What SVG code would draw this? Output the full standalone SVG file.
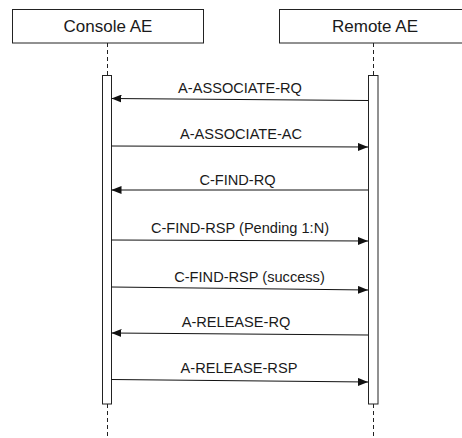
<svg xmlns="http://www.w3.org/2000/svg" width="462" height="438" viewBox="0 0 462 438">
<defs>
<style>
.box{fill:#fff;stroke:#222;stroke-width:1}
.hdr{font-family:"Liberation Sans",Arial,sans-serif;font-size:17px;fill:#1a1a1a;text-anchor:middle}
.lbl{font-family:"Liberation Sans",Arial,sans-serif;font-size:14.6px;fill:#1a1a1a;text-anchor:middle}
.life{stroke:#222;stroke-width:1;stroke-dasharray:4,3;fill:none}
.msg{stroke:#111;stroke-width:1;fill:none;marker-end:url(#ah)}
</style>
<marker id="ah" viewBox="0 0 10 8" refX="10" refY="4" markerWidth="10" markerHeight="8" markerUnits="userSpaceOnUse" orient="auto">
<path d="M0,0 L10,4 L0,8 Z" fill="#111"/>
</marker>
</defs>
<rect width="462" height="438" fill="#fff"/>
<g id="console">
<rect class="box" x="12.5" y="9.5" width="191" height="33.5"/>
<text class="hdr" x="108" y="32.3">Console AE</text>
<line class="life" x1="107.5" y1="43" x2="107.5" y2="75.5"/>
<line class="life" x1="107.5" y1="404" x2="107.5" y2="438"/>
<rect class="box" x="102.5" y="75.5" width="9" height="328.5"/>
</g>
<g id="remote">
<rect class="box" x="279.5" y="9.5" width="190" height="33.5"/>
<text class="hdr" x="375" y="32.3">Remote AE</text>
<line class="life" x1="373.5" y1="43" x2="373.5" y2="75.5"/>
<line class="life" x1="373.5" y1="404" x2="373.5" y2="438"/>
<rect class="box" x="368.5" y="75.5" width="9.5" height="328.5"/>
</g>
<g id="connectors">
<path class="msg" d="M368,100.5 L111.5,98.5"/>
<text class="lbl" x="240" y="93">A-ASSOCIATE-RQ</text>
<path class="msg" d="M111.5,146 L368,147"/>
<text class="lbl" x="241" y="139.3">A-ASSOCIATE-AC</text>
<path class="msg" d="M368,190 L111.5,190"/>
<text class="lbl" x="237.5" y="185">C-FIND-RQ</text>
<path class="msg" d="M111.5,240 L368,241"/>
<text class="lbl" x="240" y="233">C-FIND-RSP (Pending 1:N)</text>
<path class="msg" d="M111.5,287 L368,290"/>
<text class="lbl" x="249.5" y="281.5">C-FIND-RSP (success)</text>
<path class="msg" d="M368,335 L111.5,333"/>
<text class="lbl" x="236" y="327">A-RELEASE-RQ</text>
<path class="msg" d="M111.5,379.5 L368,382"/>
<text class="lbl" x="239" y="373">A-RELEASE-RSP</text>
</g>
</svg>
